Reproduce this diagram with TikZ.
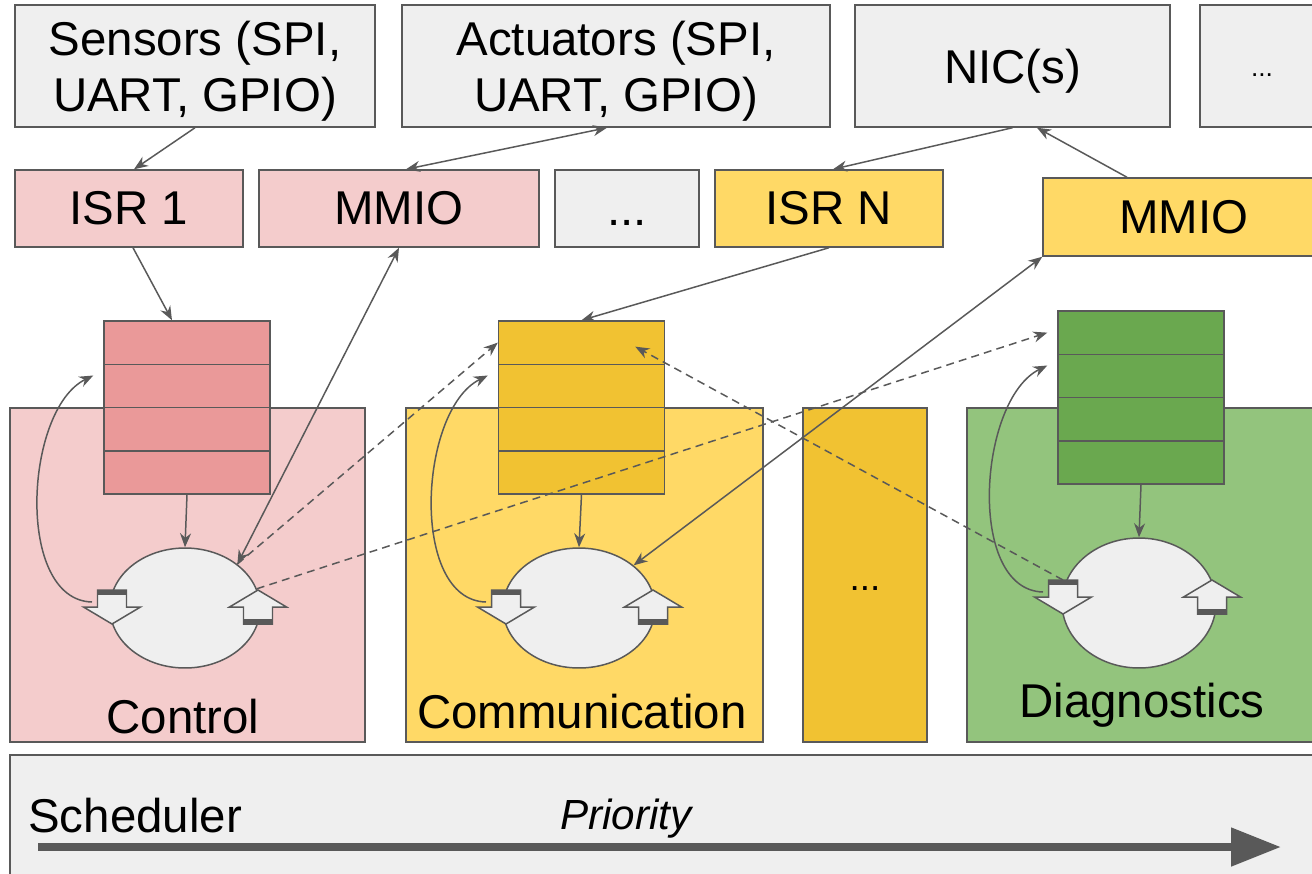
\documentclass[tikz,border=0pt]{standalone}
\usepackage{fontspec}
\setmainfont{Liberation Sans}
\usepackage{xcolor}
\usetikzlibrary{arrows.meta,shapes.geometric}
\definecolor{rtline}{HTML}{595959}
\definecolor{rtgray}{HTML}{EFEFEF}
\definecolor{rtpink}{HTML}{F4CCCC}
\definecolor{rtpinkq}{HTML}{EA9999}
\definecolor{rtyellow}{HTML}{FFD966}
\definecolor{rtyellowq}{HTML}{F1C232}
\definecolor{rtgreen}{HTML}{93C47D}
\definecolor{rtgreenq}{HTML}{6AA84F}
\tikzset{
  rtbox/.style={draw=rtline, line width=0.85pt, fill=rtgray, inner sep=0pt, align=center,
    font=\fontsize{27}{31.3}\selectfont},
  rtdevtext/.style={font=\fontsize{27}{31.8}\selectfont, align=center, inner sep=0pt, yshift=-0.1cm},
  rtproc/.style={draw=rtline, line width=0.85pt, inner sep=0pt, minimum height=6.68cm},
  rtqueue/.style={draw=rtline, line width=0.85pt, inner sep=0pt, minimum width=3.32cm, minimum height=0.865cm},
  rtthread/.style={ellipse, draw=rtline, line width=0.85pt, fill=rtgray, inner sep=0pt},
  rtlabel/.style={font=\fontsize{27}{31.3}\selectfont, inner sep=0pt, anchor=base},
  rtconn/.style={draw=rtline, line width=0.85pt, -{Stealth[length=0.28cm,width=0.22cm]}},
  rtboth/.style={rtconn, {Stealth[length=0.28cm,width=0.22cm]}-{Stealth[length=0.28cm,width=0.22cm]}},
  rtdash/.style={rtconn, dash pattern=on 4.5pt off 3pt},
  rtblk/.style={draw=rtline, line width=0.85pt, fill=rtgray, line join=miter},
  blkdown/.pic={
    \draw[rtblk] (-14.5,-17) -- (14.5,-17) -- (14.5,0) -- (28.5,0) -- (0,17)
      -- (-28.5,0) -- (-14.5,0) -- cycle;
    \fill[rtline] (-14.5,-17) rectangle (14.5,-12);
    \coordinate (-top) at (0,-17);
    \coordinate (-back) at (-20,-5);
  },
  blkup/.pic={
    \draw[rtblk] (-14.5,17) -- (14.5,17) -- (14.5,0) -- (28.5,0) -- (0,-17)
      -- (-28.5,0) -- (-14.5,0) -- cycle;
    \fill[rtline] (-14.5,17) rectangle (14.5,12);
  },
}

\begin{document}
\begin{tikzpicture}[x=0.02cm, y=-0.02cm]
\useasboundingbox (0,0) rectangle (1312,873);

% devices
\node[rtbox, minimum width=7.2cm, minimum height=2.44cm,
  label={[rtdevtext, name=sensorstxt]center:{Sensors (SPI,\\UART, GPIO)}}] (sensors) at (195,66) {};
\node[rtbox, minimum width=8.56cm, minimum height=2.44cm,
  label={[rtdevtext, name=actuatorstxt]center:{Actuators (SPI,\\UART, GPIO)}}] (actuators) at (616,66) {};
\node[rtbox, minimum width=6.3cm, minimum height=2.44cm,
  label={[rtdevtext, name=nictxt]center:NIC(s)}] (nic) at (1012.5,66) {};
\node[rtbox, minimum width=2.48cm, minimum height=2.44cm, font=\fontsize{15}{18}\selectfont,
  text height=0.4cm, text depth=0pt] (devdots) at (1262,66) {...};

% drivers
\node[rtbox, fill=rtpink, minimum width=4.56cm, minimum height=1.54cm] (isr1) at (129,208.5) {ISR 1};
\node[rtbox, fill=rtpink, minimum width=5.6cm, minimum height=1.54cm] (mmio1) at (399,208.5) {MMIO};
\node[rtbox, minimum width=2.88cm, minimum height=1.54cm, text height=0.68cm, text depth=0pt] (drvdots) at (627,208.5) {...};
\node[rtbox, fill=rtyellow, minimum width=4.56cm, minimum height=1.54cm] (isrn) at (829,208.5) {ISR N};
\node[rtbox, fill=rtyellow, minimum width=5.64cm, minimum height=1.56cm] (mmio2) at (1184,217) {MMIO};

% tasks
\node[rtproc, fill=rtpink, minimum width=7.1cm] (control) at (187.5,575) {};
\node[rtproc, fill=rtyellow, minimum width=7.14cm] (comm) at (584.5,575) {};
\node[rtproc, fill=rtyellowq, minimum width=2.48cm, font=\fontsize{21}{25}\selectfont,
  text height=0.6cm, text depth=0pt] (taskdots) at (865,575) {...};
\node[rtproc, fill=rtgreen, minimum width=7.0cm] (diag) at (1142,575) {};
\node[rtlabel] (ctllbl) at (183,733) {Control};
\node[rtlabel] (comlbl) at (582,728) {Communication};
\node[rtlabel] (diaglbl) at (1142,717) {Diagnostics};

% queues
\foreach \q/\cx/\top/\col in {qctl/187/321/rtpinkq, qcom/581.5/321/rtyellowq, qdiag/1141/311/rtgreenq}
  \foreach \i in {1,...,4}
    \node[rtqueue, fill=\col] (\q\i) at (\cx,{\top+43.25*(\i-0.5)}) {};

% threads
\node[rtthread, minimum width=3cm, minimum height=2.4cm] (ectl) at (185,608) {};
\node[rtthread, minimum width=3.04cm, minimum height=2.4cm] (ecom) at (579,608) {};
\node[rtthread, minimum width=3.08cm, minimum height=2.6cm] (ediag) at (1139,603) {};
\pic (cdn) at (112,607) {blkdown};
\pic (cup) at (258,607) {blkup};
\pic (mdn) at (506,607) {blkdown};
\pic (mup) at (653,607) {blkup};
\pic (ddn) at (1063,597) {blkdown};
\pic (dup) at (1212,597) {blkup};

% scheduler
\node[rtbox, minimum width=26.4cm, minimum height=2.5cm] (sched) at (670,817.5) {};
\node[rtlabel, anchor=base west] (schedlbl) at (28,832) {Scheduler};
\node[rtlabel, anchor=base west, font=\fontsize{24}{28}\selectfont\itshape] (priolbl) at (560,829) {Priority};
\coordinate (prio-a) at (38,847);
\coordinate (prio-b) at (1281,847);
\draw[draw=rtline, line width=0.16cm, -{Triangle[length=1cm,width=0.74cm]}] (prio-a) -- (prio-b);

% connectors
\draw[rtconn] (sensors.south) -- ([xshift=0.1cm]isr1.north);
\draw[rtboth] ([xshift=-0.18cm]actuators.south) -- ([xshift=0.14cm]mmio1.north);
\draw[rtconn] (nic.south) -- ([xshift=0.08cm]isrn.north);
\draw[rtconn] ([xshift=-1.14cm]mmio2.north) -- ([xshift=0.49cm]nic.south);
\draw[rtconn] ([xshift=0.08cm]isr1.south) -- ([xshift=-0.3cm]qctl1.north);
\draw[rtconn] (isrn.south) -- (qcom1.north);
\draw[rtboth] (mmio1.south) -- (ectl.40);
\draw[rtboth] (mmio2.south west) -- (ecom.38);
\draw[rtconn] (qctl4.south) -- (ectl.north);
\draw[rtconn] (qcom4.south) -- (ecom.north);
\draw[rtconn] (qdiag4.south) -- (ediag.north);
\draw[rtconn] (cdn-back) .. controls +(-77,-2) and +(-69,34) .. ([xshift=-0.2cm,yshift=-0.24cm]qctl2.north west);
\draw[rtconn] (mdn-back) .. controls +(-77,-2) and +(-69,34) .. ([xshift=-0.2cm,yshift=-0.24cm]qcom2.north west);
\draw[rtconn] (ddn-back) .. controls +(-77,-2) and +(-69,34) .. ([xshift=-0.2cm,yshift=-0.24cm]qdiag2.north west);
\draw[rtdash] (ectl.40) -- (qcom1.west);
\draw[rtdash] (ectl.15) -- ([xshift=-0.2cm]qdiag1.west);
\draw[rtdash] (ddn-top) -- ([xshift=-0.6cm,yshift=-0.08cm]qcom1.east);
\end{tikzpicture}
\end{document}
